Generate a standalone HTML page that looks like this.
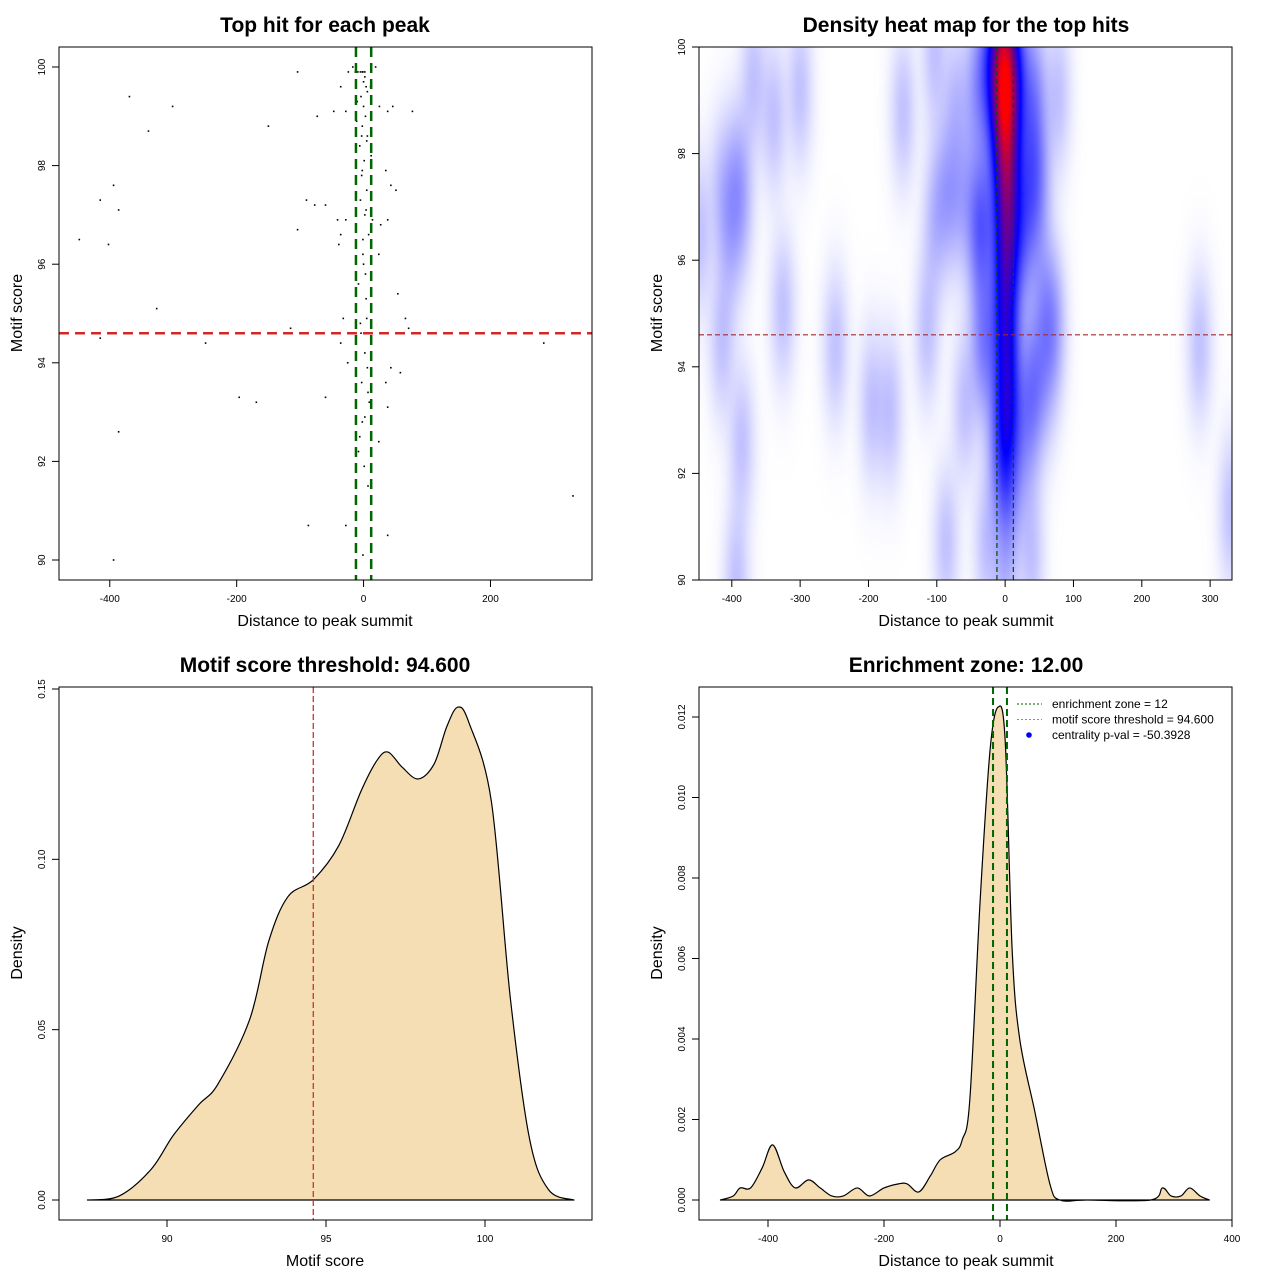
<!DOCTYPE html>
<html><head><meta charset="utf-8"><style>
body{margin:0;background:#fff}
#wrap{position:relative;width:1280px;height:1280px;font-family:"Liberation Sans",sans-serif}
#hm{position:absolute;left:699px;top:47px}
svg{position:absolute;left:0;top:0}
text{font-family:"Liberation Sans",sans-serif}
</style></head><body>
<div id="wrap">
<canvas id="hm" width="533" height="533"></canvas>
<svg id="s" width="1280" height="1280"></svg>
</div>
<script>
// Scatter data: distance, score
const scatterX=[-448,-415,-394,-386,-402,-415,-369,-339,-301,-326,-386,-394,-150,-104,-104,-115,-249,-196,-169,-87,-90,-77,-60,-60,-73,-47,-28,-41,-36,-28,-39,-36,-25,-32,-36,-28,-24,-17,-13,-9,-5,-2,2,6,19,25,38,46,77,35,43,51,38,27,24,54,66,71,43,58,35,38,24,38,284,330,-2,5,-5,8,-1,-8,5,-3,2,-8,7,-1,11,-11,14,3,-4,9,-6,1,4,-10,12,0,-3,6,-1,2,4,-4,0,3,-2,6,-6,1,-3,5,2,-1,0,4,-5,2,7,-2];
const scatterY=[96.5,97.3,97.6,97.1,96.4,94.5,99.4,98.7,99.2,95.1,92.6,90,98.8,99.9,96.7,94.7,94.4,93.3,93.2,90.7,97.3,97.2,97.2,93.3,99,99.1,90.7,96.9,96.6,96.9,96.4,94.4,94,94.9,99.6,99.1,99.9,100,99.9,99.9,99.9,99.9,99.9,99.5,100,99.2,99.1,99.2,99.1,97.9,97.6,97.5,96.9,96.8,96.2,95.4,94.9,94.7,93.9,93.8,93.6,93.1,92.4,90.5,94.4,91.3,97.9,98.5,97.3,96.6,96.2,95.6,94.9,93.6,92.9,92.2,91.5,90.1,99.6,98.9,96.9,95.8,94.6,93.2,92.5,91.9,97.1,99.3,98.2,99.7,98.6,93.9,99.9,99.8,99.6,99.4,99.2,99.0,98.8,98.6,98.4,98.1,97.8,97.5,97.0,96.5,96.0,95.3,94.8,94.2,93.4,92.8];
// Score density
const scoreX=[87.5,88.5,89.5,90.2,91,91.6,92.6,93.2,93.8,94.6,95.4,96.1,96.6,96.95,97.4,97.9,98.4,98.8,99.15,99.5,100.2,100.8,101.4,102,102.8];
const scoreD=[0,0.0012,0.009,0.019,0.028,0.034,0.053,0.076,0.089,0.094,0.104,0.12,0.129,0.1315,0.127,0.1236,0.128,0.139,0.1447,0.14,0.117,0.059,0.018,0.003,0];
// Distance density
const distX=[-482,-460,-448,-430,-410,-392,-372,-353,-330,-310,-290,-270,-246,-225,-200,-175,-160,-140,-120,-103,-77,-65,-52,-34,-17,-3,9,21,34,60,86,103,150,260,280,295,312,327,345,361];
const distD=[0,0.0001,0.0003,0.0003,0.0008,0.00137,0.0007,0.0003,0.0005,0.0003,0.0001,0.0001,0.0003,0.0001,0.0003,0.0004,0.0004,0.0002,0.0006,0.001,0.0012,0.0015,0.0025,0.0075,0.0112,0.01225,0.0114,0.0062,0.004,0.0022,0.0004,0,0,0,0.0003,0.0001,0.0001,0.0003,0.0001,0];
const p1Ticks=[-400,-200,0,200],p1YT=[90,92,94,96,98,100];
const p2XT=[-400,-300,-200,-100,0,100,200,300],p2YT=[90,92,94,96,98,100];
const p3XT=[90,95,100],p3YT=[0,0.05,0.10,0.15],p3YL=["0.00","0.05","0.10","0.15"];
const p4XT=[-400,-200,0,200,400],p4YT=[0,0.002,0.004,0.006,0.008,0.010,0.012],p4YL=["0.000","0.002","0.004","0.006","0.008","0.010","0.012"];
const threshold=94.6, zone=12;

const S=document.getElementById('s');const NS='http://www.w3.org/2000/svg';
function el(tag,attrs,txt){const e=document.createElementNS(NS,tag);for(const k in attrs)e.setAttribute(k,attrs[k]);if(txt!==undefined)e.textContent=txt;S.appendChild(e);return e;}
function lin(d0,d1,p0,p1){return v=>p0+(v-d0)*(p1-p0)/(d1-d0);}
function smooth(pts){let d='M'+pts[0][0]+','+pts[0][1];for(let i=0;i<pts.length-1;i++){const p0=pts[Math.max(0,i-1)],p1=pts[i],p2=pts[i+1],p3=pts[Math.min(pts.length-1,i+2)];
const c1x=p1[0]+(p2[0]-p0[0])/6,c1y=p1[1]+(p2[1]-p0[1])/6,c2x=p2[0]-(p3[0]-p1[0])/6,c2y=p2[1]-(p3[1]-p1[1])/6;d+=` C${c1x},${c1y} ${c2x},${c2y} ${p2[0]},${p2[1]}`;}return d;}
function frame(x0,y0,x1,y1,name){const r=el('rect',{x:x0,y:y0,width:x1-x0,height:y1-y0,fill:'none',stroke:'#000','stroke-width':1});}
function xticks(ticks,labels,sx,yb,name){ticks.forEach((t,i)=>{const x=sx(t);el('line',{x1:x,x2:x,y1:yb,y2:yb+7,stroke:'#000'});const e=el('text',{x:x,y:yb+22,'font-size':10,'text-anchor':'middle'},labels?labels[i]:String(t));});}
function yticks(ticks,labels,sy,xl,name){ticks.forEach((t,i)=>{const y=sy(t);el('line',{x1:xl-7,x2:xl,y1:y,y2:y,stroke:'#000'});const e=el('text',{x:xl-14,y:y,'font-size':10,'text-anchor':'middle',transform:`rotate(-90 ${xl-14} ${y})`},labels?labels[i]:String(t));});}
function titles(cx,ty,main,xlab,xly,ylab,ylx,cy,pre){let e=el('text',{x:cx,y:ty,'font-size':21,'font-weight':'bold','text-anchor':'middle'},main);
e=el('text',{x:cx,y:xly,'font-size':16,'text-anchor':'middle'},xlab);
e=el('text',{x:ylx,y:cy,'font-size':16,'text-anchor':'middle',transform:`rotate(-90 ${ylx} ${cy})`},ylab);}

// Panel 1
{const sx=lin(-480,360,59,592),sy=lin(100,90,67,560);
scatterX.forEach((v,i)=>{const c=el('rect',{x:sx(v)-0.8,y:sy(scatterY[i])-0.8,width:1.6,height:1.6,fill:'#000'});});
let e=el('line',{x1:59,x2:592,y1:sy(threshold),y2:sy(threshold),stroke:'#d62728','stroke-width':2.5,'stroke-dasharray':'10,6'});
[-zone,zone].forEach(z=>{const g=el('line',{x1:sx(z),x2:sx(z),y1:47,y2:580,stroke:'#006400','stroke-width':2.5,'stroke-dasharray':'10,6'});});
frame(59,47,592,580,'plot1-frame');xticks(p1Ticks,null,sx,580,'x-tick-label');yticks(p1YT,null,sy,59,'y-tick-label');
titles(325,32,'Top hit for each peak','Distance to peak summit',626,'Motif score',22,313,'plot1');}

// Panel 2 heatmap
{const sx=lin(-448,332,0,533),sy=lin(100,90,0,533);
const c=document.getElementById('hm').getContext('2d');const W=533,H=533;const img=c.createImageData(W,H);
const dens=new Float32Array(W*H);const bx=12,by=0.9;
const px=scatterX.map(sx),py=scatterY.map(sy);const sxp=bx*533/780,syp=by*533/10;
for(let k=0;k<px.length;k++){
for(let y=0;y<H;y++){const dy=(y-py[k])/syp;const ey=Math.exp(-0.5*dy*dy);for(let x=0;x<W;x++){const dx=(x-px[k])/sxp;dens[y*W+x]+=ey*Math.exp(-0.5*dx*dx);}}}
let mx=0;for(const v of dens)if(v>mx)mx=v;
for(let i=0;i<W*H;i++){let t=Math.pow(dens[i]/mx,0.75)*1.05;if(t>1)t=1;let r,g,b;if(t<0.5){const u=t/0.5;r=255*(1-u);g=255*(1-u);b=255;}else{const u=(t-0.5)/0.5;r=255*u;g=0;b=255*(1-u);}
img.data[i*4]=r;img.data[i*4+1]=g;img.data[i*4+2]=b;img.data[i*4+3]=255;}
c.putImageData(img,0,0);
const X=lin(-448,332,699,1232),Y=lin(100,90,47,580);
let e=el('line',{x1:699,x2:1232,y1:Y(threshold),y2:Y(threshold),stroke:'#a52a2a','stroke-width':1.2,'stroke-dasharray':'5,3'});
[-zone,zone].forEach(z=>{const g=el('line',{x1:X(z),x2:X(z),y1:47,y2:580,stroke:'#004d00','stroke-width':1.2,'stroke-dasharray':'5,3'});});
frame(699,47,1232,580,'plot2-frame');xticks(p2XT,null,X,580,'x-tick-label');yticks(p2YT,null,Y,699,'y-tick-label');
titles(966,32,'Density heat map for the top hits','Distance to peak summit',626,'Motif score',662,313,'plot2');}

// Panel 3
{const sx=lin(90,100,167,485),sy=lin(0,0.15,1200,689);
const pts=scoreX.map((v,i)=>[sx(v),sy(scoreD[i])]);
let e=el('path',{d:smooth(pts)+' Z',fill:'#f5deb3',stroke:'#000','stroke-width':1.2,'stroke-linejoin':'round'});
e=el('line',{x1:sx(threshold),x2:sx(threshold),y1:687,y2:1220,stroke:'#c0392b','stroke-width':1.3,'stroke-dasharray':'6,3'});
frame(59,687,592,1220,'plot3-frame');xticks(p3XT,null,sx,1220,'x-tick-label');yticks(p3YT,p3YL,sy,59,'y-tick-label');
titles(325,672,'Motif score threshold: 94.600','Motif score',1266,'Density',22,953,'plot3');}

// Panel 4
{const sx=lin(0,400,1000,1232),sy=lin(0,0.012,1200,717);
const pts=distX.map((v,i)=>[sx(v),sy(distD[i])]);
let e=el('path',{d:smooth(pts)+' Z',fill:'#f5deb3',stroke:'#000','stroke-width':1.2,'stroke-linejoin':'round'});
[-zone,zone].forEach(z=>{const g=el('line',{x1:sx(z),x2:sx(z),y1:687,y2:1220,stroke:'#006400','stroke-width':2,'stroke-dasharray':'7,4'});});
frame(699,687,1232,1220,'plot4-frame');xticks(p4XT,null,sx,1220,'x-tick-label');yticks(p4YT,p4YL,sy,699,'y-tick-label');
titles(966,672,'Enrichment zone: 12.00','Distance to peak summit',1266,'Density',662,953,'plot4');
const L=[['enrichment zone = 12','#006400','line'],['motif score threshold = 94.600','#e06666','line'],['centrality p-val = -50.3928','#0000ff','dot']];
L.forEach((it,i)=>{const y=704+i*15.5;if(it[2]==='line'){const l=el('line',{x1:1017,x2:1042,y1:y,y2:y,stroke:it[1],'stroke-width':1,'stroke-dasharray':'2,2'});}
else{const c=el('circle',{cx:1029,cy:y,r:2.8,fill:it[1]});}
const t=el('text',{x:1052,y:y+4,'font-size':12},it[0]);});}
</script>
</body></html>
